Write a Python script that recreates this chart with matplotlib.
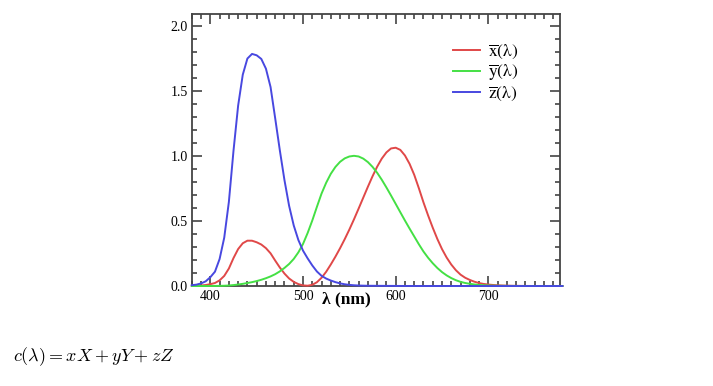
import numpy as np
from matplotlib import pyplot as plt
from matplotlib.ticker import MultipleLocator

# CIE 1931 colour matching functions, 5 nm steps, 380-780 nm
wavelength = list(range(380, 781, 5))
x_bar = [0.001368, 0.002236, 0.004243, 0.007650, 0.014310, 0.023190, 0.043510,
         0.077630, 0.134380, 0.214770, 0.283900, 0.328500, 0.348280, 0.348060,
         0.336200, 0.318700, 0.290800, 0.251100, 0.195360, 0.142100, 0.095640,
         0.057950, 0.032010, 0.014700, 0.004900, 0.002400, 0.009300, 0.029100,
         0.063270, 0.109600, 0.165500, 0.225750, 0.290400, 0.359700, 0.433450,
         0.512050, 0.594500, 0.678400, 0.762100, 0.842500, 0.916300, 0.978600,
         1.026300, 1.056700, 1.062200, 1.045600, 1.002600, 0.938400, 0.854450,
         0.751400, 0.642400, 0.541900, 0.447900, 0.360800, 0.283500, 0.218700,
         0.164900, 0.121200, 0.087400, 0.063600, 0.046770, 0.032900, 0.022700,
         0.015840, 0.011359, 0.008111, 0.005790, 0.004109, 0.002899, 0.002049,
         0.001440, 0.001000, 0.000690, 0.000476, 0.000332, 0.000235, 0.000166,
         0.000117, 0.000083, 0.000059, 0.000042]
y_bar = [0.000039, 0.000064, 0.000120, 0.000217, 0.000396, 0.000640, 0.001210,
         0.002180, 0.004000, 0.007300, 0.011600, 0.016840, 0.023000, 0.029800,
         0.038000, 0.048000, 0.060000, 0.073900, 0.090980, 0.112600, 0.139020,
         0.169300, 0.208020, 0.258600, 0.323000, 0.407300, 0.503000, 0.608200,
         0.710000, 0.793200, 0.862000, 0.914850, 0.954000, 0.980300, 0.994950,
         1.000000, 0.995000, 0.978600, 0.952000, 0.915400, 0.870000, 0.816300,
         0.757000, 0.694900, 0.631000, 0.566800, 0.503000, 0.441200, 0.381000,
         0.321000, 0.265000, 0.217000, 0.175000, 0.138200, 0.107000, 0.081600,
         0.061000, 0.044580, 0.032000, 0.023200, 0.017000, 0.011920, 0.008210,
         0.005723, 0.004102, 0.002929, 0.002091, 0.001484, 0.001047, 0.000740,
         0.000520, 0.000361, 0.000249, 0.000172, 0.000120, 0.000085, 0.000060,
         0.000042, 0.000030, 0.000021, 0.000015]
z_bar = [0.006450, 0.010550, 0.020050, 0.036210, 0.067850, 0.110200, 0.207400,
         0.371300, 0.645600, 1.039050, 1.385600, 1.622960, 1.747060, 1.782600,
         1.772110, 1.744100, 1.669200, 1.528100, 1.287640, 1.041900, 0.812950,
         0.616200, 0.465180, 0.353300, 0.272000, 0.212300, 0.158200, 0.111700,
         0.078250, 0.057250, 0.042160, 0.029840, 0.020300, 0.013400, 0.008750,
         0.005750, 0.003900, 0.002750, 0.002100, 0.001800, 0.001650, 0.001400,
         0.001100, 0.001000, 0.000800, 0.000600, 0.000340, 0.000240, 0.000190,
         0.000100, 0.000050, 0.000030, 0.000020, 0.000010, 0.0, 0.0, 0.0, 0.0,
         0.0, 0.0, 0.0, 0.0, 0.0, 0.0, 0.0, 0.0, 0.0, 0.0, 0.0, 0.0, 0.0, 0.0,
         0.0, 0.0, 0.0, 0.0, 0.0, 0.0, 0.0, 0.0, 0.0]

serif = 'Liberation Serif'

fig = plt.figure(figsize=(7.13, 3.86), dpi=100, facecolor='white')
ax = fig.add_axes([0.269, 0.259, 0.516, 0.705])

ax.plot(wavelength, x_bar, color='#e04848', lw=1.4, clip_on=False, zorder=3,
        label=r'$\overline{\mathrm{x}}\mathrm{(\lambda)}$')
ax.plot(wavelength, y_bar, color='#44e044', lw=1.4, clip_on=False, zorder=3,
        label=r'$\overline{\mathrm{y}}\mathrm{(\lambda)}$')
ax.plot(wavelength, z_bar, color='#4848e0', lw=1.4, clip_on=False, zorder=3,
        label=r'$\overline{\mathrm{z}}\mathrm{(\lambda)}$')

ax.set_xlim(380, 777)
ax.set_ylim(0, 2.09)
ax.xaxis.set_major_locator(MultipleLocator(100))
ax.xaxis.set_minor_locator(MultipleLocator(10))
ax.yaxis.set_major_locator(MultipleLocator(0.5))
ax.yaxis.set_minor_locator(MultipleLocator(0.1))
ax.tick_params(which='both', direction='in', top=True, right=True,
               color='#444444', width=1.2)
ax.tick_params(which='major', length=7, labelsize=10, pad=3)
ax.tick_params(which='minor', length=3.5)
ax.yaxis.set_major_formatter(plt.FormatStrFormatter('%.1f'))
for lab in ax.get_xticklabels() + ax.get_yticklabels():
    lab.set_fontfamily(serif)
for s in ax.spines.values():
    s.set_linewidth(1.3)
    s.set_color('#444444')

ax.set_xlabel('λ (nm)', fontfamily=serif, fontweight='bold', fontsize=12.5)
ax.xaxis.set_label_coords(0.42, -0.02)

leg = ax.legend(loc='upper right', bbox_to_anchor=(0.93, 0.955), frameon=False,
                handlelength=1.6, handletextpad=0.45, labelspacing=0.1,
                fontsize=12.5)
for t in leg.get_texts():
    t.set_math_fontfamily('stix')

fig.text(0.018, 1 - 357 / 386, r'$c(\lambda) = xX + yY + zZ$', fontsize=13,
         va='center', ha='left', math_fontfamily='cm')

fig.savefig('out.png', dpi=100, facecolor='white')
